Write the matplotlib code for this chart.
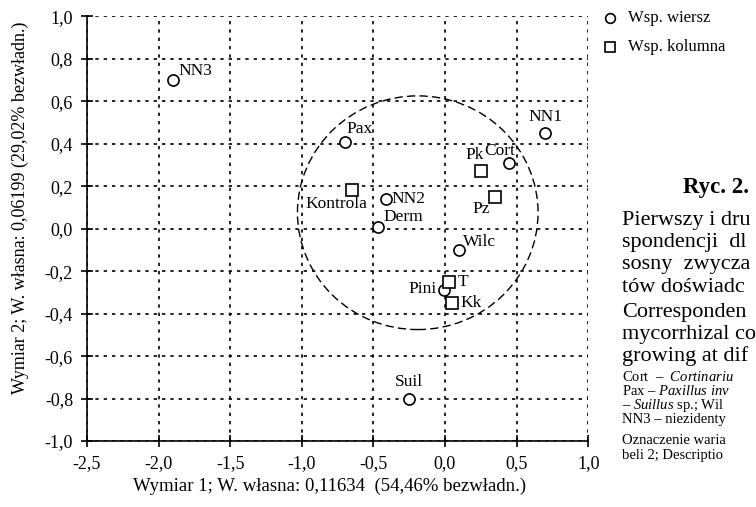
import matplotlib
matplotlib.use('Agg')
import matplotlib.pyplot as plt
from matplotlib.patches import Ellipse
from matplotlib.lines import Line2D

plt.rcParams['font.family'] = ['Liberation Serif', 'DejaVu Serif']
plt.rcParams['mathtext.fontset'] = 'custom'
plt.rcParams['mathtext.rm'] = 'Liberation Serif'
plt.rcParams['mathtext.it'] = 'Liberation Serif:italic'

# row coordinates (circles)
row_names = ['NN3', 'Pax', 'NN2', 'Derm', 'Wilc', 'Cort', 'NN1', 'Pini', 'Suil']
row_x = [-1.90, -0.70, -0.41, -0.47, 0.10, 0.45, 0.70, -0.01, -0.25]
row_y = [0.70, 0.41, 0.14, 0.01, -0.10, 0.31, 0.45, -0.29, -0.80]

# column coordinates (squares)
col_names = ['Kontrola', 'Pk', 'Pz', 'T', 'Kk']
col_x = [-0.65, 0.25, 0.35, 0.03, 0.05]
col_y = [0.18, 0.27, 0.15, -0.25, -0.35]

x_ticks = [-2.5, -2.0, -1.5, -1.0, -0.5, 0.0, 0.5, 1.0]
y_ticks = [-1.0, -0.8, -0.6, -0.4, -0.2, 0.0, 0.2, 0.4, 0.6, 0.8, 1.0]

# label offsets in points (dx, dy, ha, va)
row_lab = {
    'NN3': (4, 1, 'left', 'bottom'),
    'Pax': (1, 3, 'left', 'bottom'),
    'NN2': (4, 0, 'left', 'center'),
    'Derm': (4, 1, 'left', 'bottom'),
    'Wilc': (3, 0, 'left', 'bottom'),
    'Cort': (4, 3, 'right', 'bottom'),
    'NN1': (0, 6, 'center', 'bottom'),
    'Pini': (-5, 1, 'right', 'center'),
    'Suil': (0, 6, 'center', 'bottom'),
}
col_lab = {
    'Kontrola': (11, -4, 'right', 'top'),
    'Pk': (2, 6, 'right', 'bottom'),
    'Pz': (-4, -3, 'right', 'top'),
    'T': (6, 0, 'left', 'center'),
    'Kk': (6, 0, 'left', 'center'),
}

fig = plt.figure(figsize=(7.56, 5.07), dpi=100)
ax = fig.add_axes([0.115, 0.130, 0.663, 0.838])

ax.plot(row_x, row_y, 'o', ms=8, mfc='white', mec='black', mew=1.2, zorder=5)
ax.plot(col_x, col_y, 's', ms=8, mfc='white', mec='black', mew=1.2, zorder=5)

for n, x, y in zip(row_names, row_x, row_y):
    dx, dy, ha, va = row_lab[n]
    ax.annotate(n, (x, y), xytext=(dx, dy), textcoords='offset points',
                ha=ha, va=va, fontsize=12.5)
for n, x, y in zip(col_names, col_x, col_y):
    dx, dy, ha, va = col_lab[n]
    ax.annotate(n, (x, y), xytext=(dx, dy), textcoords='offset points',
                ha=ha, va=va, fontsize=12.5)

# dashed circle
ax.add_patch(Ellipse((-0.19, 0.075), 1.68, 1.10, fill=False, ls=(0, (6, 3)),
                     lw=1.0, ec='black'))

ax.set_xlim(-2.5, 1.0)
ax.set_ylim(-1.0, 1.0)
ax.set_xticks(x_ticks)
ax.set_yticks(y_ticks)
ax.set_xticklabels([f'{v:.1f}'.replace('.', ',') for v in x_ticks])
ax.set_yticklabels([f'{v:.1f}'.replace('.', ',') for v in y_ticks])
ax.tick_params(direction='inout', length=8, width=1.2, labelsize=13, pad=6)
ax.grid(True, ls=(0, (2, 3)), color='black', lw=1.2)
for s in ['top', 'right']:
    ax.spines[s].set_visible(False)
for s in ['left', 'bottom']:
    ax.spines[s].set_linewidth(1.2)

ax.set_xlabel('Wymiar 1; W. własna: 0,11634  (54,46% bezwładn.)', fontsize=13.5)
ax.set_ylabel('Wymiar 2; W. własna: 0,06199 (29,02% bezwładn.)', fontsize=13)
ax.xaxis.set_label_coords(0.485, -0.085)
ax.yaxis.set_label_coords(-0.115, 0.549)

# legend drawn by hand in figure coordinates
fig.add_artist(Line2D([0.807], [0.9645], transform=fig.transFigure, marker='o', ls='',
                      ms=7, mfc='white', mec='black', mew=1.2))
fig.add_artist(Line2D([0.807], [0.907], transform=fig.transFigure, marker='s', ls='',
                      ms=7, mfc='white', mec='black', mew=1.2))
fig.text(0.831, 0.9645, 'Wsp. wiersz', fontsize=12, va='center')
fig.text(0.831, 0.907, 'Wsp. kolumna', fontsize=12, va='center')

# caption (cropped at page edge)
fig.text(0.903, 0.631, 'Ryc. 2.', fontsize=16.5, fontweight='bold', va='center')
cap = ['Pierwszy i dru', 'spondencji  dl', 'sosny  zwycza', 'tów doświadc',
       'Corresponden', 'mycorrhizal co', 'growing at dif']
cap_y = [221, 243, 265, 287, 312, 334, 356]
for t, yp in zip(cap, cap_y):
    fig.text(0.823, 1 - yp / 507, t, fontsize=16, va='center')
small = ['Cort  –  $\\it{Cortinariu}$', 'Pax – $\\it{Paxillus\\ inv}$',
         '– $\\it{Suillus}$ sp.; Wil', 'NN3 – niezidenty',
         'Oznaczenie waria', 'beli 2; Descriptio']
small_y = [377, 391, 405, 419, 441, 455]
for t, yp in zip(small, small_y):
    fig.text(0.823, 1 - yp / 507, t, fontsize=10.5, va='center')

fig.savefig('out.png', dpi=100)
